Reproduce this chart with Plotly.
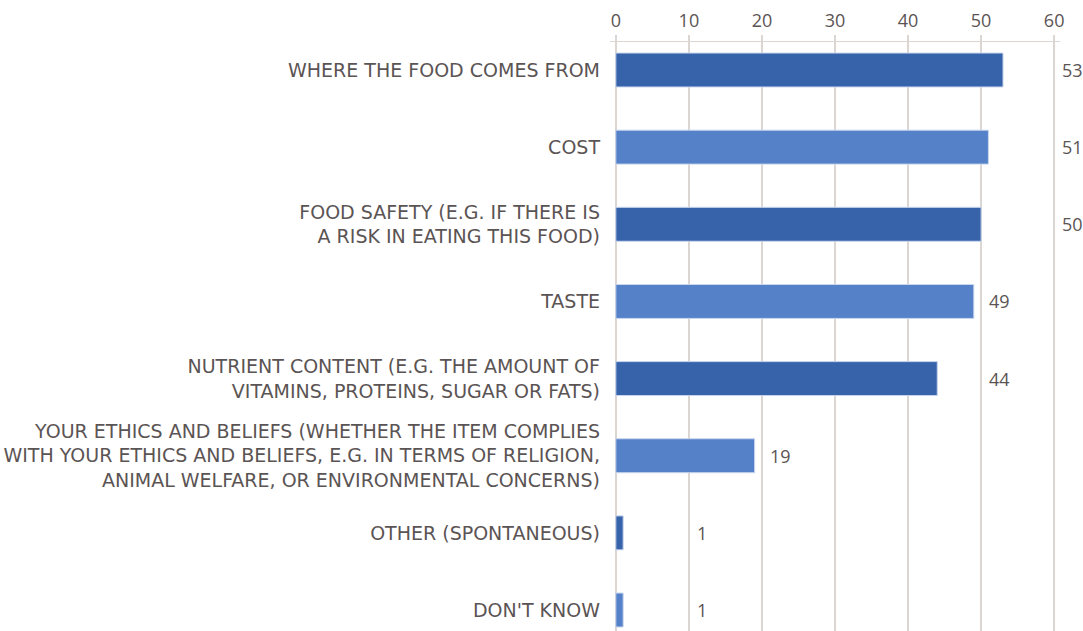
import math
import plotly.graph_objects as go

categories = [
    "WHERE THE FOOD COMES FROM",
    "COST",
    "FOOD SAFETY (E.G. IF THERE IS<br>A RISK IN EATING THIS FOOD)",
    "TASTE",
    "NUTRIENT CONTENT (E.G. THE AMOUNT OF<br>VITAMINS, PROTEINS, SUGAR OR FATS)",
    "YOUR ETHICS AND BELIEFS (WHETHER THE ITEM COMPLIES<br>"
    "WITH YOUR ETHICS AND BELIEFS, E.G. IN TERMS OF RELIGION,<br>"
    "ANIMAL WELFARE, OR ENVIRONMENTAL CONCERNS)",
    "OTHER (SPONTANEOUS)",
    "DON'T KNOW",
]
values = [53, 51, 50, 49, 44, 19, 1, 1]
x_ticks = [0, 10, 20, 30, 40, 50, 60]

DARK = "#3763AA"
LIGHT = "#5581C8"
GRID = "#DCD6D2"
TEXT = "#5B5454"
CAT_FONT = "DejaVu Sans"
NUM_FONT = "Open Sans"

colors = [DARK if i % 2 == 0 else LIGHT for i in range(len(values))]

fig = go.Figure()
fig.add_trace(go.Bar(
    x=values, y=categories, orientation="h",
    marker=dict(color=colors, line=dict(color="#C9D6EE", width=1)),
    width=0.44, hoverinfo="skip",
))

# labels sit just past the next gridline, as in the original
for cat, v in zip(categories, values):
    fig.add_annotation(
        x=(math.floor(v / 10) + 1) * 10, y=cat, xref="x", yref="y",
        text=str(v), showarrow=False, xanchor="left", xshift=6,
        font=dict(family=NUM_FONT, size=18, color=TEXT),
    )

fig.update_xaxes(
    side="top", range=[-0.8, 60.8], tickvals=x_ticks,
    showgrid=True, gridcolor=GRID, gridwidth=1.5, zeroline=False,
    showline=True, linecolor=GRID, linewidth=1.5,
    ticks="outside", ticklen=6, tickcolor=GRID, tickwidth=1.5,
    tickfont=dict(family=NUM_FONT, size=18, color=TEXT),
)
fig.update_yaxes(
    type="category", categoryorder="array", categoryarray=categories,
    range=[7.272, -0.363], showgrid=False, zeroline=False,
    ticks="", ticklabelstandoff=9,
    tickfont=dict(family=CAT_FONT, size=19, color=TEXT),
)
fig.update_layout(
    width=1083, height=631,
    margin=dict(l=610, r=23, t=42, b=0),
    plot_bgcolor="white", paper_bgcolor="white",
    showlegend=False, bargap=0,
)

# drop the default 8px page margin so the figure fills the window
fig.write_html(
    "out.html",
    config={"displayModeBar": False, "staticPlot": True},
    post_script="document.body.style.margin='0';document.body.style.overflow='hidden';",
)
